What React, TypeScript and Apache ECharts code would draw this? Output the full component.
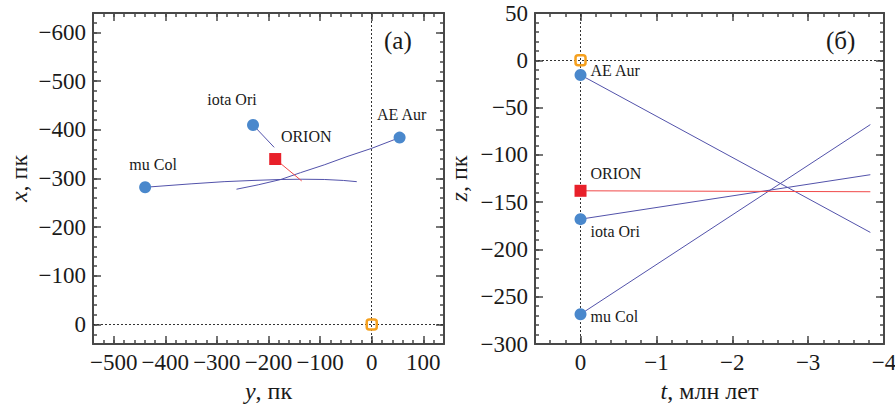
import React, { useEffect, useRef } from 'react';
import * as echarts from 'echarts';

// ---------- data ----------
const starNames = ['mu Col', 'iota Ori', 'AE Aur'];
// panel (a): y (horizontal) and x (vertical) coordinates, pc
const starY = [-439, -230, 54];
const starX = [-282, -410, -384];
// panel (б): z at t = 0, pc
const starZ = [-268.5, -168, -15.5];

const orionY = [-187];
const orionX = [-340];
const orionZ = [-138];

const sunY = [0];
const sunX = [0];
const sunT = [0];
const sunZ = [0];

// trajectories, panel (a)
const muColTrackY = [-439, -350, -286, -230, -176, -135, -92, -55, -29];
const muColTrackX = [-282, -289, -293.5, -296, -298, -298.5, -298, -296, -293.5];
const iotaOriTrackY = [-230, -189];
const iotaOriTrackX = [-410, -364];
const aeAurTrackY = [54, 0, -48, -92, -138, -176, -220, -262];
const aeAurTrackX = [-384, -362, -345, -328, -312, -298, -287, -278];
const orionTrackY = [-187, -135.7];
const orionTrackX = [-340, -295];

// trajectories, panel (б)
const trackT = [0, -3.82];
const muColTrackZ = [-268.5, -68];
const iotaOriTrackZ = [-168, -121];
const aeAurTrackZ = [-15.5, -182];
const orionTrackZ = [-138, -139];

// tick labels
const ticksAY = [-500, -400, -300, -200, -100, 0, 100];
const ticksAX = [-600, -500, -400, -300, -200, -100, 0];
const ticksBT = [0, -1, -2, -3, -4];
const ticksBZ = [50, 0, -50, -100, -150, -200, -250, -300];

// ---------- styles ----------
const FONT = 'Liberation Serif';
const AXIS_COLOR = '#484848';
const TEXT_COLOR = '#1a1a1a';
const TRACK_BLUE = '#5252aa';
const TRACK_RED = '#f04848';
const STAR_BLUE = '#4a88cc';
const ORION_RED = '#e8202a';
const SUN_ORANGE = '#f5a01e';

const fmt = (v: number) => {
  const r = Math.round(v * 1000) / 1000;
  return r < 0 ? '\u2212' + Math.abs(r) : String(r);
};

function steps(a: number, b: number, step: number): number[] {
  const out: number[] = [];
  const n = Math.round((b - a) / step);
  for (let i = 0; i <= n; i++) out.push(Math.round((a + i * step) * 1000) / 1000);
  return out;
}

const nameStyle = {
  fontFamily: FONT,
  fontSize: 24,
  color: TEXT_COLOR,
  rich: {
    i: { fontFamily: FONT, fontSize: 24, fontStyle: 'italic', color: TEXT_COLOR },
    n: { fontFamily: FONT, fontSize: 24, color: TEXT_COLOR },
  },
};

function makeAxes(
  dim: 'x' | 'y',
  gridIndex: number,
  min: number,
  max: number,
  minor: number[],
  major: number[],
  inverse: boolean,
  name: string,
  nameGap: number
) {
  const sides = dim === 'x' ? ['bottom', 'top'] : ['left', 'right'];
  const base = {
    type: 'value',
    gridIndex,
    min,
    max,
    inverse,
    splitLine: { show: false },
    splitArea: { show: false },
  };
  const lineOn = { show: true, onZero: false, lineStyle: { color: AXIS_COLOR, width: 2 } };
  const lineOff = { show: false, onZero: false };
  const tickMinor = {
    show: true,
    inside: true,
    length: 4,
    customValues: minor,
    lineStyle: { color: AXIS_COLOR, width: 1.5 },
  };
  const tickMajor = {
    show: true,
    inside: true,
    length: 8,
    customValues: major,
    lineStyle: { color: AXIS_COLOR, width: 1.5 },
  };
  return [
    {
      ...base,
      position: sides[0],
      axisLine: lineOn,
      axisTick: tickMinor,
      axisLabel: {
        show: true,
        customValues: major,
        formatter: fmt,
        fontFamily: FONT,
        fontSize: 23,
        color: TEXT_COLOR,
        margin: 7,
      },
      name,
      nameLocation: 'middle',
      nameGap,
      nameTextStyle: nameStyle,
    },
    { ...base, position: sides[0], axisLine: lineOff, axisTick: tickMajor, axisLabel: { show: false } },
    { ...base, position: sides[1], axisLine: lineOn, axisTick: tickMinor, axisLabel: { show: false } },
    { ...base, position: sides[1], axisLine: lineOff, axisTick: tickMajor, axisLabel: { show: false } },
  ];
}

const zip = (a: number[], b: number[]) => a.map((v, i) => [v, b[i]]);

export default function App() {
  const ref = useRef<HTMLDivElement>(null);

  useEffect(() => {
    document.body.style.margin = '0';
    if (!ref.current) return;
    const chart = echarts.init(ref.current, undefined, { renderer: 'svg' });

    const xAxes = [
      ...makeAxes('x', 0, -540, 140, steps(-540, 140, 20), ticksAY, false, '{i|y}{n|, пк}', 34),
      ...makeAxes('x', 1, -4, 0.6, steps(-4, 0.6, 0.2), ticksBT, true, '{i|t}{n|, млн лет}', 34),
    ];
    const yAxes = [
      ...makeAxes('y', 0, -640, 40, steps(-640, 40, 20), ticksAX, true, '{i|x}{n|, пк}', 62),
      ...makeAxes('y', 1, -300, 50, steps(-300, 50, 10), ticksBZ, false, '{i|z}{n|, пк}', 64),
    ];

    const track = (xi: number, data: number[][], color: string) => ({
      type: 'line',
      xAxisIndex: xi,
      yAxisIndex: xi,
      data,
      showSymbol: false,
      symbol: 'none',
      smooth: false,
      silent: true,
      lineStyle: { color, width: 1 },
      z: 2,
    });

    const guide = (xi: number) => ({
      type: 'line',
      xAxisIndex: xi,
      yAxisIndex: xi,
      data: [],
      silent: true,
      z: 1,
      markLine: {
        silent: true,
        symbol: ['none', 'none'],
        label: { show: false },
        lineStyle: { color: '#333', width: 1, type: [2, 2] },
        data: [{ xAxis: 0 }, { yAxis: 0 }],
      },
    });

    const labelText = { fontFamily: FONT, fontSize: 16, color: TEXT_COLOR };
    const leftOffsets = [
      [8, -23],
      [-21, -25],
      [2, -23],
    ];
    const rightOffsets = [
      [0, 2],
      [0, 12],
      [0, -4],
    ];

    const option = {
      animation: false,
      backgroundColor: '#ffffff',
      grid: [
        { left: 93, top: 13, width: 351, height: 331, containLabel: false, outerBoundsMode: 'none' },
        { left: 535, top: 13, width: 349, height: 331, containLabel: false, outerBoundsMode: 'none' },
      ],
      title: [
        { text: '(а)', left: 384, top: 28, padding: 0, textStyle: { fontFamily: FONT, fontSize: 25, fontWeight: 'normal', color: TEXT_COLOR } },
        { text: '(б)', left: 826, top: 28, padding: 0, textStyle: { fontFamily: FONT, fontSize: 25, fontWeight: 'normal', color: TEXT_COLOR } },
      ],
      xAxis: xAxes,
      yAxis: yAxes,
      series: [
        guide(0),
        guide(4),
        track(0, zip(muColTrackY, muColTrackX), TRACK_BLUE),
        track(0, zip(iotaOriTrackY, iotaOriTrackX), TRACK_BLUE),
        track(0, zip(aeAurTrackY, aeAurTrackX), TRACK_BLUE),
        track(0, zip(orionTrackY, orionTrackX), TRACK_RED),
        track(4, zip(trackT, muColTrackZ), TRACK_BLUE),
        track(4, zip(trackT, iotaOriTrackZ), TRACK_BLUE),
        track(4, zip(trackT, aeAurTrackZ), TRACK_BLUE),
        track(4, zip(trackT, orionTrackZ), TRACK_RED),
        // panel (a) stars
        {
          type: 'scatter',
          xAxisIndex: 0,
          yAxisIndex: 0,
          symbol: 'circle',
          symbolSize: 12,
          itemStyle: { color: STAR_BLUE, opacity: 1 },
          z: 5,
          data: starNames.map((n, i) => ({
            name: n,
            value: [starY[i], starX[i]],
            label: { show: true, position: 'inside', formatter: n, offset: leftOffsets[i], ...labelText },
          })),
        },
        {
          type: 'scatter',
          xAxisIndex: 0,
          yAxisIndex: 0,
          symbol: 'rect',
          symbolSize: 12,
          itemStyle: { color: ORION_RED, opacity: 1 },
          z: 5,
          data: orionY.map((v, i) => ({
            name: 'ORION',
            value: [v, orionX[i]],
            label: { show: true, position: 'inside', formatter: 'ORION', offset: [31, -23], ...labelText },
          })),
        },
        {
          type: 'scatter',
          xAxisIndex: 0,
          yAxisIndex: 0,
          symbol: 'roundRect',
          symbolSize: 10,
          itemStyle: { color: 'rgba(255,255,255,0)', borderColor: SUN_ORANGE, borderWidth: 2.5, opacity: 1 },
          z: 5,
          data: zip(sunY, sunX),
        },
        // panel (б) stars
        {
          type: 'scatter',
          xAxisIndex: 4,
          yAxisIndex: 4,
          symbol: 'circle',
          symbolSize: 12,
          itemStyle: { color: STAR_BLUE, opacity: 1 },
          z: 5,
          data: starNames.map((n, i) => ({
            name: n,
            value: [0, starZ[i]],
            label: { show: true, position: 'right', distance: 4, formatter: n, offset: rightOffsets[i], ...labelText },
          })),
        },
        {
          type: 'scatter',
          xAxisIndex: 4,
          yAxisIndex: 4,
          symbol: 'rect',
          symbolSize: 12,
          itemStyle: { color: ORION_RED, opacity: 1 },
          z: 5,
          data: orionZ.map((v) => ({
            name: 'ORION',
            value: [0, v],
            label: { show: true, position: 'right', distance: 4, formatter: 'ORION', offset: [0, -17], ...labelText },
          })),
        },
        {
          type: 'scatter',
          xAxisIndex: 4,
          yAxisIndex: 4,
          symbol: 'roundRect',
          symbolSize: 10,
          itemStyle: { color: 'rgba(255,255,255,0)', borderColor: SUN_ORANGE, borderWidth: 2.5, opacity: 1 },
          z: 5,
          data: zip(sunT, sunZ),
        },
      ],
    };

    chart.setOption(option as any);
    return () => chart.dispose();
  }, []);

  return <div ref={ref} style={{ width: 895, height: 405 }} />;
}
